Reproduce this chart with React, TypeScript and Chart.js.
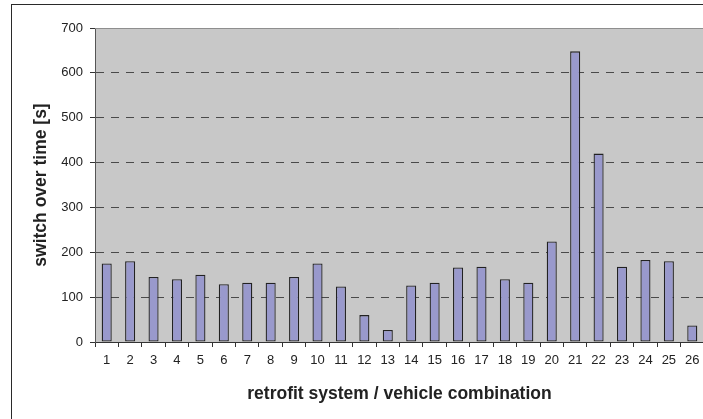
import React, { useEffect, useRef } from "react";
import { Chart, registerables } from "chart.js";

Chart.register(...registerables);

const categories = [
  "1", "2", "3", "4", "5", "6", "7", "8", "9", "10", "11", "12", "13",
  "14", "15", "16", "17", "18", "19", "20", "21", "22", "23", "24", "25", "26",
];
const switchOverTime = [
  175, 180, 145, 140, 150, 129, 132, 132, 145, 175, 124, 60, 27,
  126, 132, 166, 168, 140, 132, 224, 648, 420, 168, 183, 180, 37,
];
const yMin = 0;
const yMax = 700;
const yStep = 100;

const xTitle = "retrofit system / vehicle combination";
const yTitle = "switch over time [s]";

const FONT = "'Liberation Sans', Arial, Helvetica, sans-serif";

const plotBackground = {
  id: "plotBackground",
  beforeDraw(chart: any) {
    const { ctx, chartArea } = chart;
    if (!chartArea) return;
    ctx.save();
    ctx.fillStyle = "#C8C8C8";
    ctx.fillRect(chartArea.left, chartArea.top, chartArea.right - chartArea.left, chartArea.bottom - chartArea.top);
    ctx.restore();
  },
  beforeDatasetsDraw(chart: any) {
    const { ctx, chartArea } = chart;
    ctx.save();
    ctx.strokeStyle = "#8E8E8E";
    ctx.lineWidth = 1;
    ctx.beginPath();
    ctx.moveTo(chartArea.left, chartArea.top + 0.5);
    ctx.lineTo(chartArea.right, chartArea.top + 0.5);
    ctx.stroke();
    ctx.restore();
  },
};

export default function App() {
  const canvasRef = useRef<HTMLCanvasElement | null>(null);

  useEffect(() => {
    if (!canvasRef.current) return;
    const chart = new Chart(canvasRef.current, {
      type: "bar",
      data: {
        labels: categories,
        datasets: [
          {
            data: switchOverTime,
            backgroundColor: "#9999CC",
            borderColor: "#222222",
            borderWidth: 1.3,
            borderSkipped: false,
            categoryPercentage: 1,
            barPercentage: 0.43,
          },
        ],
      },
      options: {
        responsive: false,
        animation: false,
        layout: { padding: { top: 28, right: 16, left: 0, bottom: 0 } },
        plugins: {
          legend: { display: false },
          tooltip: { enabled: false },
          title: { display: false },
        },
        scales: {
          x: {
            afterFit(scale: any) {
              scale.height = 77;
            },
            grid: {
              display: true,
              drawOnChartArea: false,
              drawTicks: true,
              tickLength: 5,
              tickColor: "#333333",
              offset: true,
            },
            border: { display: true, color: "#333333", width: 1 },
            ticks: {
              autoSkip: false,
              maxRotation: 0,
              minRotation: 0,
              color: "#222222",
              padding: 6,
              font: { family: FONT, size: 13 },
            },
            title: {
              display: true,
              text: xTitle,
              color: "#222222",
              font: { family: FONT, size: 17.5, weight: "bold" },
              padding: { top: 0, bottom: 14 },
            },
          },
          y: {
            min: yMin,
            max: yMax,
            afterFit(scale: any) {
              scale.width = 95;
            },
            ticks: {
              stepSize: yStep,
              color: "#222222",
              padding: 7,
              font: { family: FONT, size: 13 },
            },
            grid: {
              color: (ctx: any) =>
                ctx.tick && (ctx.tick.value === yMax || ctx.tick.value === yMin)
                  ? "rgba(0,0,0,0)"
                  : "#4A4A4A",
              lineWidth: 1,
              tickLength: 5,
              tickColor: "#333333",
              tickBorderDash: [],
            },
            border: { display: true, color: "#555555", width: 1, dash: [8, 7] },
            title: {
              display: true,
              text: yTitle,
              color: "#222222",
              font: { family: FONT, size: 17.5, weight: "bold" },
              padding: { top: 30.5, bottom: 0 },
            },
          },
        },
      },
      plugins: [plotBackground],
    });
    return () => chart.destroy();
  }, []);

  return (
    <div
      style={{
        position: "fixed",
        left: 0,
        top: 0,
        width: 703,
        height: 419,
        overflow: "hidden",
        background: "#ffffff",
      }}
    >
      <div
        style={{
          position: "absolute",
          left: 11,
          top: 4,
          width: 720,
          height: 440,
          border: "1px solid #2A2A2A",
          boxSizing: "border-box",
        }}
      />
      <canvas
        ref={canvasRef}
        width={720}
        height={419}
        style={{ position: "absolute", left: 0, top: 0, width: 720, height: 419 }}
      />
    </div>
  );
}
